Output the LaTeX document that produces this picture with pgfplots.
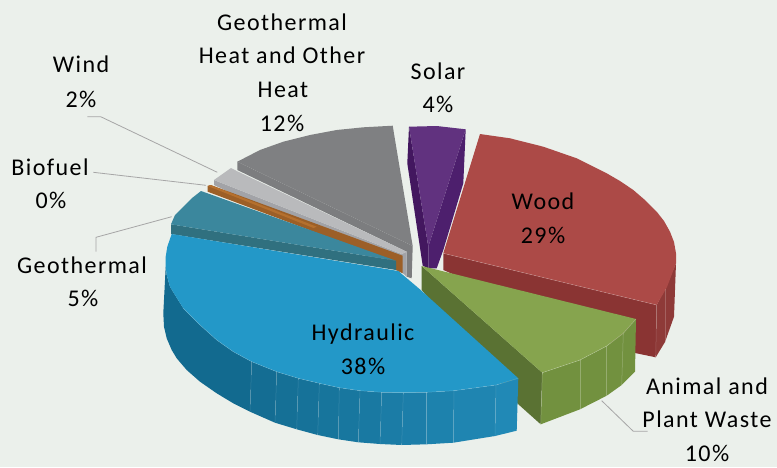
\documentclass[border=0pt]{standalone}
\usepackage{fontspec}
\setmainfont[LetterSpace=6]{Carlito}
\usepackage{pgfplots}
\pgfplotsset{compat=1.18}
\tikzset{lab/.style={anchor=base, font=\fontsize{24}{28}\selectfont, text=black, inner sep=0pt}}
\definecolor{bgc}{HTML}{EBF0EB}
\definecolor{leader}{HTML}{A6A6A6}
\definecolor{seam}{HTML}{FFFFFF}
\definecolor{blueT}{HTML}{2398C8}
\definecolor{blueL}{HTML}{126A8F}
\definecolor{blueR}{HTML}{2189B6}
\definecolor{tealT}{HTML}{3B879D}
\definecolor{tealS}{HTML}{30707F}
\definecolor{orgS}{HTML}{9C5F27}
\definecolor{orgT}{HTML}{B5702E}
\definecolor{ligT}{HTML}{B9BABC}
\definecolor{ligS}{HTML}{A2A3A7}
\definecolor{gryT}{HTML}{7F8082}
\definecolor{gryS}{HTML}{7C7D7F}
\definecolor{purT}{HTML}{61327F}
\definecolor{purL}{HTML}{43175F}
\definecolor{purR}{HTML}{4D1F6D}
\definecolor{redT}{HTML}{AC4A47}
\definecolor{redS}{HTML}{8A3433}
\definecolor{redO}{HTML}{8E3A38}
\definecolor{grnT}{HTML}{86A44E}
\definecolor{grnS}{HTML}{5A7233}
\definecolor{grnO}{HTML}{72913F}
\begin{document}
\begin{tikzpicture}
\begin{axis}[
    scale only axis,
    width=777pt,
    height=467pt,
    xmin=0, xmax=777,
    ymin=0, ymax=467,
    y dir=reverse,
    hide axis,
    every axis plot/.append style={no markers, line join=round},
]
% background
\addplot[fill=bgc, draw=none] coordinates {(0,0) (777,0) (777,467) (0,467)} -- cycle;

% solar
\addplot[fill=purL, draw=none] coordinates {(409,126.7) (428.3,246.7) (428.3,268.3) (422.7,265.7) (407.3,163.3)} -- cycle;
\addplot[fill=purR, draw=none] coordinates {(465.7,129.3) (463.3,183.3) (443.3,250) (436.7,268.3) (428.3,268.3) (428.3,246.7)} -- cycle;
\addplot[fill=purT, draw=none] coordinates {(409,126.7) (436.7,126) (465.7,129.3) (428.3,246.7)} -- cycle;

% geothermal heat and other heat
\addplot[fill=gryS, draw=none] coordinates {(237.3,161.7) (237.3,170) (406.7,251.7) (406.7,276.7) (411.7,278.3) (412.7,246)} -- cycle;
\addplot[fill=gryT, draw=none] coordinates {(237.3,161.7) (260,150) (283.3,141.7) (310,135) (336.7,130) (363.3,127.3) (392.7,125.7) (412.7,246)} -- cycle;

% wind
\addplot[fill=ligS, draw=none] coordinates {(214,180) (214,185) (403,273.3) (406.7,276.7) (406.7,251.7) (401.7,254)} -- cycle;
\addplot[fill=ligT, draw=none] coordinates {(214,180) (231,168) (237.3,171.3) (406.7,251.7) (401.7,254)} -- cycle;

% biofuel
\addplot[fill=orgS, draw=none] coordinates {(207.7,186) (207.7,191.7) (396,262.7) (396,270) (402.7,273.3) (402.7,255.7) (210.7,185)} -- cycle;
\addplot[fill=orgT, draw=none] coordinates {(207.7,186) (210.7,185) (316.7,226.7) (313.5,228)} -- cycle;

% geothermal
\addplot[fill=tealS, draw=none] coordinates {(171,224.3) (396,260.7) (396,270) (171,234)} -- cycle;
\addplot[fill=tealT, draw=none] coordinates {(171,224.3) (175,215) (183.3,206.7) (191.7,198.3) (201,191) (396,260.7)} -- cycle;

% wood
\addplot[fill=redS, draw=none] coordinates {(443.3,253.3) (656.7,305) (655.7,357.3) (635,353) (443.3,270)} -- cycle;
\addplot[fill=redO, draw=none] coordinates {(656.7,305) (665,289) (665,342) (655.7,357.3)} -- cycle;
\addplot[fill=redO, draw=none] coordinates {(665,289) (676,263.3) (674,316.7) (665,342)} -- cycle;
\addplot[fill=redT, draw=none] coordinates {(480,134) (510,138.3) (543.3,146.7) (576.7,158.3) (606.7,173.3) (620,181) (633.3,190) (645.5,200.5) (656.7,211.7) (664,221) (670,231.7) (674,242) (676,253.3) (676,263.3) (667,287) (656.7,305) (443.3,253.3)} -- cycle;
\addplot[seam, opacity=0.25, line width=0.5pt] coordinates {(443.3,253.3) (656.7,305)};
\addplot[seam, opacity=0.2, line width=0.5pt] coordinates {(656.7,305) (655.7,357.3)};
\addplot[seam, opacity=0.2, line width=0.5pt] coordinates {(665,289) (665,342)};

% animal and plant waste
\addplot[fill=grnS, draw=none] coordinates {(421.7,266) (542.3,372.7) (540.7,424.3) (518,404) (421.7,290)} -- cycle;
\addplot[fill=grnO, draw=none] coordinates {(542.3,372.7) (580,360) (606.7,346) (623.3,333.3) (636,319) (635,371.7) (621.7,385) (606.7,395.7) (580,409.3) (540.7,424.3)} -- cycle;
\addplot[fill=grnT, draw=none] coordinates {(421.7,266) (542.3,372.7) (580,360) (606.7,346) (623.3,333.3) (636,319)} -- cycle;
\addplot[seam, opacity=0.25, line width=0.5pt] coordinates {(542.3,372.7) (540.7,424.3)};
\addplot[seam, opacity=0.25, line width=0.5pt] coordinates {(580,360) (580,409.3)};
\addplot[seam, opacity=0.25, line width=0.5pt] coordinates {(606.7,346) (606.7,395.7)};
\addplot[seam, opacity=0.25, line width=0.5pt] coordinates {(623.3,333.3) (621.7,385)};
\addplot[seam, opacity=0.3, line width=0.5pt] coordinates {(542.3,372.7) (580,360) (606.7,346) (623.3,333.3) (636,319)};

% hydraulic, outer wall in segments
\addplot[fill=blueL, draw=none] coordinates {(251.7,361.7) (233.3,351.7) (216.7,340) (200,325) (183.3,308.3) (175,295) (170,286.7) (166.7,275) (165.7,266.7) (163.3,313.3) (164,326.7) (166.7,338.3) (171.7,350) (176.7,358.3) (186.7,370) (200,381.7) (216.7,393.3) (233.3,403.3) (250,411.7)} -- cycle;
\addplot[fill=blueR!10!blueL, draw=none] coordinates {(251.7,361.7) (276.7,371.7) (275,422.7) (250,411.7)} -- cycle;
\addplot[fill=blueR!18!blueL, draw=none] coordinates {(276.7,371.7) (298.3,378.3) (296.7,429.3) (275,422.7)} -- cycle;
\addplot[fill=blueR!26!blueL, draw=none] coordinates {(298.3,378.3) (319.3,383.3) (317.7,435) (296.7,429.3)} -- cycle;
\addplot[fill=blueR!34!blueL, draw=none] coordinates {(319.3,383.3) (339.3,387.7) (338.3,439.3) (317.7,435)} -- cycle;
\addplot[fill=blueR!42!blueL, draw=none] coordinates {(339.3,387.7) (360,390.7) (358.3,442.3) (338.3,439.3)} -- cycle;
\addplot[fill=blueR!50!blueL, draw=none] coordinates {(360,390.7) (381.7,392.3) (380,444) (358.3,442.3)} -- cycle;
\addplot[fill=blueR!58!blueL, draw=none] coordinates {(381.7,392.3) (403.3,392.7) (401.7,445) (380,444)} -- cycle;
\addplot[fill=blueR!66!blueL, draw=none] coordinates {(403.3,392.7) (426.7,392.3) (426.7,444.3) (401.7,445)} -- cycle;
\addplot[fill=blueR!76!blueL, draw=none] coordinates {(426.7,392.3) (454,390.7) (453.3,442.7) (426.7,444.3)} -- cycle;
\addplot[fill=blueR!88!blueL, draw=none] coordinates {(454,390.7) (496,385) (495,436) (453.3,442.7)} -- cycle;
\addplot[fill=blueR, draw=none] coordinates {(496,385) (518.3,378.3) (516.7,430.7) (495,436)} -- cycle;
% hydraulic, top
\addplot[fill=blueT, draw=none] coordinates {(171.7,234) (398.3,271) (420.7,290) (518.3,378.3) (496,385) (454,390.7) (426.7,392.3) (403.3,392.7) (381.7,392.3) (360,390.7) (339.3,387.7) (319.3,383.3) (298.3,378.3) (276.7,371.7) (251.7,361.7) (233.3,351.7) (216.7,340) (200,325) (183.3,308.3) (175,295) (170,286.7) (166.7,275) (165.7,266.7) (165.7,256.7) (167.3,246.7)} -- cycle;
\addplot[seam, opacity=0.15, line width=0.5pt] coordinates {(251.7,361.7) (250,411.7)};
\addplot[seam, opacity=0.15, line width=0.5pt] coordinates {(276.7,371.7) (275,422.7)};
\addplot[seam, opacity=0.15, line width=0.5pt] coordinates {(298.3,378.3) (296.7,429.3)};
\addplot[seam, opacity=0.15, line width=0.5pt] coordinates {(319.3,383.3) (317.7,435)};
\addplot[seam, opacity=0.15, line width=0.5pt] coordinates {(339.3,387.7) (338.3,439.3)};
\addplot[seam, opacity=0.15, line width=0.5pt] coordinates {(360,390.7) (358.3,442.3)};
\addplot[seam, opacity=0.15, line width=0.5pt] coordinates {(381.7,392.3) (380,444)};
\addplot[seam, opacity=0.15, line width=0.5pt] coordinates {(403.3,392.7) (401.7,445)};
\addplot[seam, opacity=0.15, line width=0.5pt] coordinates {(426.7,392.3) (426.7,444.3)};
\addplot[seam, opacity=0.15, line width=0.5pt] coordinates {(454,390.7) (453.3,442.7)};
\addplot[seam, opacity=0.15, line width=0.5pt] coordinates {(496,385) (495,436)};
\addplot[seam, opacity=0.2, line width=0.5pt] coordinates {(518.3,378.3) (496,385) (454,390.7) (426.7,392.3) (403.3,392.7) (381.7,392.3) (360,390.7) (339.3,387.7) (319.3,383.3) (298.3,378.3) (276.7,371.7) (251.7,361.7) (233.3,351.7) (216.7,340) (200,325) (183.3,308.3)};

% leader lines
\addplot[leader, line width=0.8pt] coordinates {(87.3,116.7) (100.7,116.7) (217.3,172.3)};
\addplot[leader, line width=0.8pt] coordinates {(93.3,172.3) (206,185.3)};
\addplot[leader, line width=0.8pt] coordinates {(96,251.7) (96,237.3) (171.7,216.7)};
\addplot[leader, line width=0.8pt] coordinates {(601.7,400.7) (633.3,431.3) (647.7,431.3)};

% labels
\node[lab] at (axis cs:282,30) {Geothermal};
\node[lab] at (axis cs:282,63) {Heat and Other};
\node[lab] at (axis cs:283,97) {Heat};
\node[lab] at (axis cs:282,131) {12\%};
\node[lab] at (axis cs:438,79) {Solar};
\node[lab] at (axis cs:438,112) {4\%};
\node[lab] at (axis cs:81,72) {Wind};
\node[lab] at (axis cs:81,107) {2\%};
\node[lab] at (axis cs:50,175) {Biofuel};
\node[lab] at (axis cs:51,208) {0\%};
\node[lab] at (axis cs:82,273) {Geothermal};
\node[lab] at (axis cs:83,306) {5\%};
\node[lab] at (axis cs:543,209) {Wood};
\node[lab] at (axis cs:543,243) {29\%};
\node[lab] at (axis cs:363,340) {Hydraulic};
\node[lab] at (axis cs:363,374) {38\%};
\node[lab] at (axis cs:707,394) {Animal and};
\node[lab] at (axis cs:707,427) {Plant Waste};
\node[lab] at (axis cs:707,461) {10\%};
\end{axis}
\end{tikzpicture}
\end{document}
